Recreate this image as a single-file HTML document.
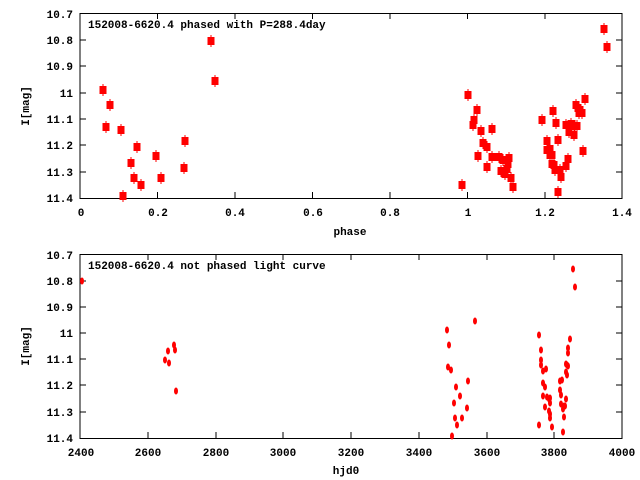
<!DOCTYPE html>
<html><head><style>body{margin:0;background:#fff}svg{display:block}text{font-family:"Liberation Mono",monospace;font-weight:bold;font-size:11px;fill:#000}</style></head><body>
<svg width="640" height="480" xmlns="http://www.w3.org/2000/svg">
<g id="top">
<rect x="80" y="13.5" width="542" height="185" fill="none" stroke="#000" stroke-width="1"/>
<g stroke="#000">
<path d="M80 40h6M80 66h6M80 93h6M80 119h6M80 145h6M80 172h6M622 40h-6M622 66h-6M622 93h-6M622 119h-6M622 145h-6M622 172h-6"/>
<path d="M157.5 198v-6M235 198v-6M312.5 198v-6M390 198v-6M467.5 198v-6M545 198v-6M157.5 13v6M235 13v6M312.5 13v6M390 13v6M467.5 13v6M545 13v6"/>
</g>
<g text-anchor="end">
<text x="73" y="18">10.7</text><text x="73" y="44">10.8</text><text x="73" y="70">10.9</text><text x="73" y="97">11</text><text x="73" y="123">11.1</text><text x="73" y="149">11.2</text><text x="73" y="176">11.3</text><text x="73" y="202">11.4</text>
</g>
<g text-anchor="middle">
<text x="81" y="216">0</text><text x="158" y="216">0.2</text><text x="235" y="216">0.4</text><text x="313" y="216">0.6</text><text x="390" y="216">0.8</text><text x="468" y="216">1</text><text x="545" y="216">1.2</text><text x="622" y="216">1.4</text>
<text x="350" y="235">phase</text>
</g>
<text x="0" y="0" transform="translate(29,106) rotate(-90)" text-anchor="middle">I[mag]</text>
<text x="88" y="28">152008-6620.4 phased with P=288.4day</text>
<g fill="#f00" id="tp"></g>
</g>
<g id="bot">
<rect x="80" y="254.5" width="542" height="184" fill="none" stroke="#000" stroke-width="1"/>
<g stroke="#000">
<path d="M80 281h6M80 307h6M80 333h6M80 359h6M80 385h6M80 412h6M622 281h-6M622 307h-6M622 333h-6M622 359h-6M622 385h-6M622 412h-6"/>
<path d="M148 438v-6M216 438v-6M283 438v-6M351 438v-6M419 438v-6M487 438v-6M554 438v-6M148 254v6M216 254v6M283 254v6M351 254v6M419 254v6M487 254v6M554 254v6"/>
</g>
<g text-anchor="end">
<text x="73" y="259">10.7</text><text x="73" y="285">10.8</text><text x="73" y="311">10.9</text><text x="73" y="337">11</text><text x="73" y="363">11.1</text><text x="73" y="389">11.2</text><text x="73" y="416">11.3</text><text x="73" y="442">11.4</text>
</g>
<g text-anchor="middle">
<text x="81" y="456">2400</text><text x="148" y="456">2600</text><text x="216" y="456">2800</text><text x="283" y="456">3000</text><text x="351" y="456">3200</text><text x="419" y="456">3400</text><text x="487" y="456">3600</text><text x="554" y="456">3800</text><text x="622" y="456">4000</text>
<text x="346" y="474">hjd0</text>
</g>
<text x="0" y="0" transform="translate(29,346) rotate(-90)" text-anchor="middle">I[mag]</text>
<text x="88" y="269">152008-6620.4 not phased light curve</text>
<g fill="#f00" id="bp"></g>
</g>
</svg>
<script>
var tp=[[103,90],[110,105],[106,127],[121,130],[137,147],[131,163],[134,178],[141,185],[123,196],[156,156],[161,178],[185,141],[184,168],[211,41],[215,81],[604,29],[607,47],[468,95],[477,110],[474,120],[473,125],[481,131],[492,129],[483,143],[487,147],[478,156],[492,157],[487,167],[499,157],[503,160],[509,158],[508,164],[507,169],[501,171],[505,174],[511,178],[513,187],[462,185],[542,120],[547,141],[547,150],[550,149],[550,155],[552,155],[552,164],[554,165],[555,170],[560,170],[561,177],[558,192],[558,140],[556,123],[553,111],[566,125],[571,124],[569,132],[574,135],[575,126],[577,126],[576,105],[578,108],[580,110],[579,113],[582,113],[585,99],[583,151],[568,159],[566,166]];
var bp=[[82,281],[573,269],[575,287],[475,321],[447,330],[449,345],[448,367],[451,370],[456,387],[454,403],[455,418],[457,425],[452,436],[460,396],[462,418],[468,381],[467,408],[165,360],[168,351],[169,363],[174,345],[175,350],[176,391],[539,335],[541,350],[541,360],[541,365],[543,371],[546,369],[543,383],[545,387],[543,396],[545,407],[539,425],[547,397],[549,399],[550,403],[549,411],[550,414],[550,418],[550,398],[552,427],[560,381],[562,380],[560,390],[561,395],[561,404],[563,409],[564,406],[563,432],[564,417],[565,406],[566,399],[566,372],[567,375],[566,364],[567,365],[568,348],[568,353],[570,339],[568,366]];
var ns="http://www.w3.org/2000/svg",h="";
tp.forEach(function(p){h+='<rect x="'+(p[0]-3.5)+'" y="'+(p[1]-4)+'" width="7" height="8"/><rect x="'+(p[0]-0.5)+'" y="'+(p[1]-6)+'" width="1" height="12"/>';});
document.getElementById('tp').innerHTML=h;h="";
bp.forEach(function(p){h+='<ellipse cx="'+p[0]+'" cy="'+p[1]+'" rx="2" ry="3.5"/>';});
document.getElementById('bp').innerHTML=h;
</script>
</body></html>
